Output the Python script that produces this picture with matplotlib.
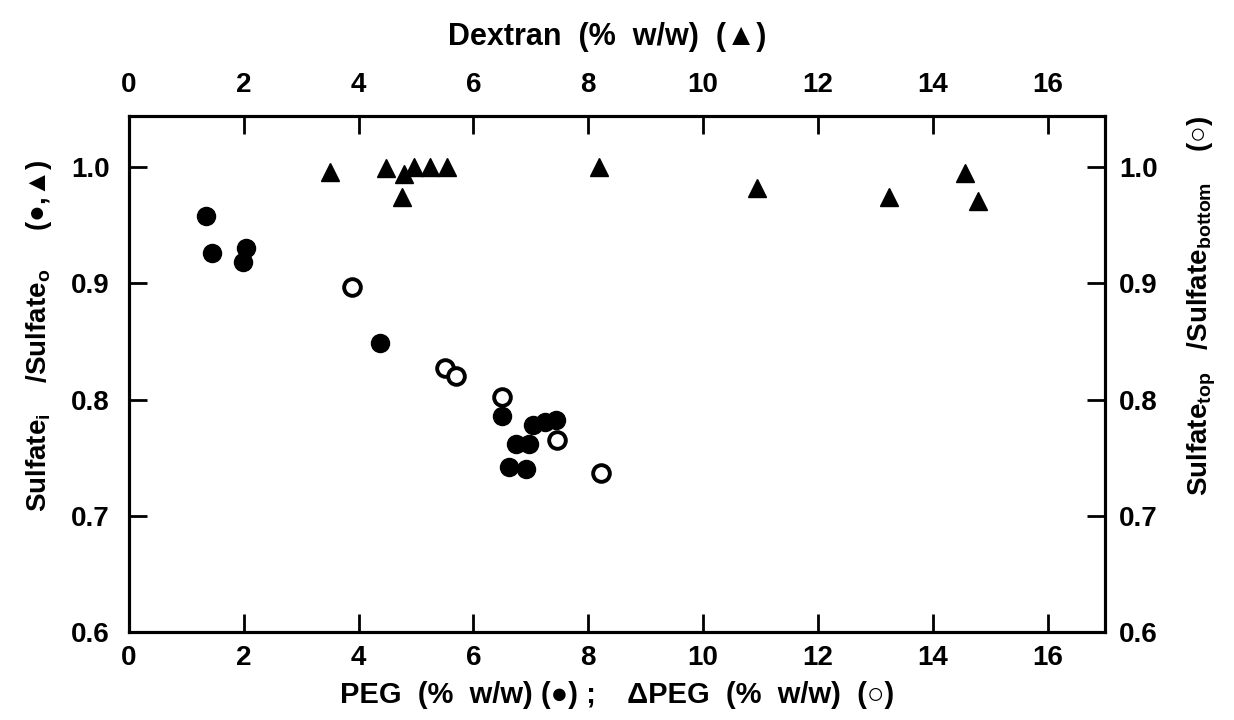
import matplotlib
matplotlib.use("Agg")
import matplotlib.pyplot as plt

# DATA -------------------------------------------------------------
# PEG (% w/w), filled circles -> left axis
peg_x = [1.35, 1.44, 2.03, 1.98, 4.37, 6.50, 7.04, 7.24, 7.44, 6.74, 6.96, 6.62, 6.91]
peg_y = [0.958, 0.926, 0.930, 0.918, 0.849, 0.786, 0.778, 0.781, 0.782, 0.762, 0.762, 0.742, 0.740]

# delta PEG (% w/w), open circles -> right axis
dpeg_x = [3.89, 5.51, 5.70, 6.50, 7.46, 8.23]
dpeg_y = [0.897, 0.827, 0.820, 0.802, 0.765, 0.737]

# Dextran (% w/w), triangles -> top axis / left axis
dex_x = [3.50, 4.47, 4.79, 4.97, 5.25, 5.54, 4.75, 8.19, 10.93, 13.23, 14.56, 14.79]
dex_y = [0.996, 0.999, 0.994, 1.000, 1.000, 1.000, 0.974, 1.000, 0.982, 0.974, 0.995, 0.971]

x_ticks = [0, 2, 4, 6, 8, 10, 12, 14, 16]
y_ticks = [0.6, 0.7, 0.8, 0.9, 1.0]

#STYLE--------------------------------------------------------------
plt.rcParams['font.family'] = ['Liberation Sans', 'DejaVu Sans']
plt.rcParams['font.weight'] = 'bold'
plt.rcParams['mathtext.fontset'] = 'custom'
plt.rcParams['mathtext.rm'] = 'Liberation Sans:bold'
plt.rcParams['mathtext.default'] = 'rm'

fig = plt.figure(figsize=(12.34, 7.2), dpi=100)
ax = fig.add_axes([0.1045, 0.1222, 0.791, 0.7167])
ax_top = ax.twiny()
ax_r = ax.twinx()

for a in (ax, ax_top, ax_r):
    for s in a.spines.values():
        s.set_linewidth(2.2)

#PLOTTING------------------------------------------------------------
ax.plot(peg_x, peg_y, 'o', color='black', markersize=13, zorder=3)
ax_r.plot(dpeg_x, dpeg_y, 'o', markerfacecolor='white', markeredgecolor='black',
          markeredgewidth=2.8, markersize=12, zorder=3)
ax_top.plot(dex_x, dex_y, '^', color='black', markersize=12.5, zorder=3)

ax.set_xlim(0, 17)
ax_top.set_xlim(0, 17)
ax.set_ylim(0.6, 1.044)
ax_r.set_ylim(0.6, 1.044)

ax.set_xticks(x_ticks)
ax_top.set_xticks(x_ticks)
ax.set_yticks(y_ticks)
ax_r.set_yticks(y_ticks)
ax.set_yticklabels([f'{v:.1f}' for v in y_ticks])
ax_r.set_yticklabels([f'{v:.1f}' for v in y_ticks])

ax.tick_params(axis='x', direction='in', length=13, width=2, labelsize=20, pad=9)
ax.tick_params(axis='y', direction='in', length=13, width=2, labelsize=20, pad=14)
ax_top.tick_params(axis='x', direction='in', length=13, width=2, labelsize=20, pad=13)
ax_r.tick_params(axis='y', direction='in', length=13, width=2, labelsize=20, pad=10)

#axis labels (wide letter spacing as in the original print)
ax.set_xlabel('PEG  (%  w/w) (●) ;    ΔPEG  (%  w/w)  (○)', fontsize=21, fontweight='bold')
ax.xaxis.set_label_coords(0.5, -0.095)
ax_top.set_xlabel('Dextran  (%  w/w)  (▲)', fontsize=22, fontweight='bold')
ax_top.xaxis.set_label_coords(0.49, 1.138)
ax.set_ylabel(r'Sulfate$_{\mathrm{i}}$    /Sulfate$_{\mathrm{o}}$     (●,▲)',
              fontsize=20, fontweight='bold')
ax.yaxis.set_label_coords(-0.077, 0.574)
ax_r.set_ylabel(r'Sulfate$_{\mathrm{top}}$   /Sulfate$_{\mathrm{bottom}}$    (○)',
                fontsize=20, fontweight='bold', rotation=90)
ax_r.yaxis.set_label_coords(1.083, 0.632)

fig.savefig('out.png', dpi=100)
